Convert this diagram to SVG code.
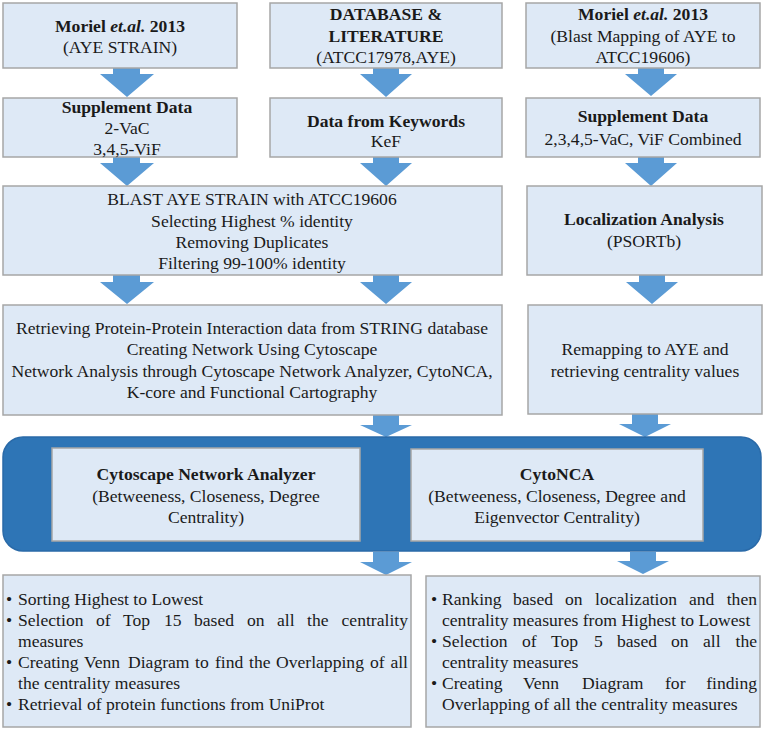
<svg xmlns="http://www.w3.org/2000/svg" width="765" height="730" viewBox="0 0 765 730">
<style>
.box{fill:#dee9f6;stroke:#a6a6a6;stroke-width:1.5}
.arr{fill:#5b9bd5}
.tx{font-family:"Liberation Serif",serif;font-size:17.6px;fill:#1a1a1a}
.c{text-anchor:middle}
.e{text-anchor:end}
.b{font-weight:bold}
.bi{font-weight:bold;font-style:italic}
</style>
<rect width="765" height="730" fill="#ffffff"/>
<g id="connectors">
<polygon class="arr" points="113,68 140,68 140,74 154,74 127,97 100,74 113,74"/>
<polygon class="arr" points="373,68 399,68 399,74 412,74 386,97 360,74 373,74"/>
<polygon class="arr" points="638,68 664,68 664,74 677,74 651,96 625,74 638,74"/>
<polygon class="arr" points="113,157 140,157 140,163 154,163 127,186 100,163 113,163"/>
<polygon class="arr" points="373,157 399,157 399,163 412,163 386,186 360,163 373,163"/>
<polygon class="arr" points="638,157 664,157 664,163 677,163 651,186 625,163 638,163"/>
<polygon class="arr" points="113,275 140,275 140,282 154,282 127,304 100,282 113,282"/>
<polygon class="arr" points="373,275 399,275 399,282 412,282 386,304 360,282 373,282"/>
<polygon class="arr" points="639,275 665,275 665,282 678,282 652,304 626,282 639,282"/>
<polygon class="arr" points="373,415 399,415 399,425 412,425 386,437 360,425 373,425"/>
<polygon class="arr" points="632,414 658,414 658,424 671,424 645,437 619,424 632,424"/>
<polygon class="arr" points="373,552 399,552 399,562 412,562 386,575 360,562 373,562"/>
<polygon class="arr" points="630,552 656,552 656,561 669,561 643,574 617,561 630,561"/>
</g>
<g id="n1">
<rect class="box" x="3" y="3" width="234" height="65"/>
<text style="font-family:'Liberation Serif',serif" class="tx c b" x="120" y="32">Moriel <tspan class="bi">et.al.</tspan> 2013</text>
<text style="font-family:'Liberation Serif',serif" class="tx c" x="120" y="53">(AYE STRAIN)</text>
</g>
<g id="n2">
<rect class="box" x="270" y="3" width="232" height="65"/>
<text style="font-family:'Liberation Serif',serif" class="tx c b" x="386" y="20">DATABASE &amp;</text>
<text style="font-family:'Liberation Serif',serif" class="tx c b" x="386" y="42">LITERATURE</text>
<text style="font-family:'Liberation Serif',serif" class="tx c" x="386" y="63">(ATCC17978,AYE)</text>
</g>
<g id="n3">
<rect class="box" x="526" y="3" width="234" height="65"/>
<text style="font-family:'Liberation Serif',serif" class="tx c b" x="643" y="20">Moriel <tspan class="bi">et.al.</tspan> 2013</text>
<text style="font-family:'Liberation Serif',serif" class="tx c" x="643" y="42">(Blast Mapping of AYE to</text>
<text style="font-family:'Liberation Serif',serif" class="tx c" x="643" y="63">ATCC19606)</text>
</g>
<g id="n4">
<rect class="box" x="3" y="98" width="234" height="59"/>
<text style="font-family:'Liberation Serif',serif" class="tx c b" x="127" y="113">Supplement Data</text>
<text style="font-family:'Liberation Serif',serif" class="tx c" x="127" y="134">2-VaC</text>
<text style="font-family:'Liberation Serif',serif" class="tx c" x="127" y="155">3,4,5-ViF</text>
</g>
<g id="n5">
<rect class="box" x="270" y="98" width="232" height="59"/>
<text style="font-family:'Liberation Serif',serif" class="tx c b" x="386" y="127">Data from Keywords</text>
<text style="font-family:'Liberation Serif',serif" class="tx c" x="386" y="147">KeF</text>
</g>
<g id="n6">
<rect class="box" x="526" y="98" width="234" height="59"/>
<text style="font-family:'Liberation Serif',serif" class="tx c b" x="643" y="122">Supplement Data</text>
<text style="font-family:'Liberation Serif',serif" class="tx c" x="643" y="145">2,3,4,5-VaC, ViF Combined</text>
</g>
<g id="n7">
<rect class="box" x="3" y="186" width="499" height="89"/>
<text style="font-family:'Liberation Serif',serif" class="tx c" x="252" y="205">BLAST AYE STRAIN with ATCC19606</text>
<text style="font-family:'Liberation Serif',serif" class="tx c" x="252" y="227">Selecting Highest % identity</text>
<text style="font-family:'Liberation Serif',serif" class="tx c" x="252" y="248">Removing Duplicates</text>
<text style="font-family:'Liberation Serif',serif" class="tx c" x="252" y="269">Filtering 99-100% identity</text>
</g>
<g id="n8">
<rect class="box" x="527" y="186" width="235" height="89"/>
<text style="font-family:'Liberation Serif',serif" class="tx c b" x="644" y="225">Localization Analysis</text>
<text style="font-family:'Liberation Serif',serif" class="tx c" x="644" y="247">(PSORTb)</text>
</g>
<g id="n9">
<rect class="box" x="3" y="305" width="499" height="110"/>
<text style="font-family:'Liberation Serif',serif" class="tx c" x="252" y="334">Retrieving Protein-Protein Interaction data from STRING database</text>
<text style="font-family:'Liberation Serif',serif" class="tx c" x="252" y="355">Creating Network Using Cytoscape</text>
<text style="font-family:'Liberation Serif',serif" class="tx c" x="252" y="377">Network Analysis through Cytoscape Network Analyzer, CytoNCA,</text>
<text style="font-family:'Liberation Serif',serif" class="tx c" x="252" y="398">K-core and Functional Cartography</text>
</g>
<g id="n10">
<rect class="box" x="528" y="305" width="234" height="109"/>
<text style="font-family:'Liberation Serif',serif" class="tx c" x="645" y="355">Remapping to AYE and</text>
<text style="font-family:'Liberation Serif',serif" class="tx c" x="645" y="377">retrieving centrality values</text>
</g>
<g id="band">
<rect x="3" y="437" width="758" height="114" rx="20" ry="20" fill="#2e75b6" stroke="#2a6aa8" stroke-width="1.5"/>
</g>
<g id="n11">
<rect class="box" x="52" y="448" width="308" height="93"/>
<text style="font-family:'Liberation Serif',serif" class="tx c b" x="206" y="480">Cytoscape Network Analyzer</text>
<text style="font-family:'Liberation Serif',serif" class="tx c" x="206" y="502">(Betweeness, Closeness, Degree</text>
<text style="font-family:'Liberation Serif',serif" class="tx c" x="206" y="523">Centrality)</text>
</g>
<g id="n12">
<rect class="box" x="411" y="449" width="292" height="92"/>
<text style="font-family:'Liberation Serif',serif" class="tx c b" x="557" y="480">CytoNCA</text>
<text style="font-family:'Liberation Serif',serif" class="tx c" x="557" y="502">(Betweeness, Closeness, Degree and</text>
<text style="font-family:'Liberation Serif',serif" class="tx c" x="557" y="523">Eigenvector Centrality)</text>
</g>
<g id="n13">
<rect class="box" x="3" y="575" width="408" height="152"/>
<text style="font-family:'Liberation Serif',serif" class="tx" x="6" y="605">•</text>
<text style="font-family:'Liberation Serif',serif" class="tx" x="18" y="605">Sorting Highest to Lowest</text>
<text style="font-family:'Liberation Serif',serif" class="tx" x="6" y="626">•</text>
<text style="font-family:'Liberation Serif',serif" class="tx" y="626"><tspan x="18">Selection</tspan><tspan x="96">of</tspan><tspan x="123">Top</tspan><tspan x="164">15</tspan><tspan x="194">based</tspan><tspan x="247">on</tspan><tspan x="277">all</tspan><tspan x="307">the</tspan></text>
<text style="font-family:'Liberation Serif',serif" class="tx e" x="408" y="626">centrality</text>
<text style="font-family:'Liberation Serif',serif" class="tx" x="18" y="647">measures</text>
<text style="font-family:'Liberation Serif',serif" class="tx" x="6" y="668">•</text>
<text style="font-family:'Liberation Serif',serif" class="tx" y="668"><tspan x="18">Creating</tspan><tspan x="84">Venn</tspan><tspan x="128">Diagram</tspan><tspan x="195">to</tspan><tspan x="215">find</tspan><tspan x="249">the</tspan><tspan x="276">Overlapping</tspan><tspan x="370">of</tspan></text>
<text style="font-family:'Liberation Serif',serif" class="tx e" x="408" y="668">all</text>
<text style="font-family:'Liberation Serif',serif" class="tx" x="18" y="689">the centrality measures</text>
<text style="font-family:'Liberation Serif',serif" class="tx" x="6" y="710">•</text>
<text style="font-family:'Liberation Serif',serif" class="tx" x="18" y="710">Retrieval of protein functions from UniProt</text>
</g>
<g id="n14">
<rect class="box" x="426" y="576" width="334" height="151"/>
<text style="font-family:'Liberation Serif',serif" class="tx" x="431" y="605">•</text>
<text style="font-family:'Liberation Serif',serif" class="tx" y="605"><tspan x="442">Ranking</tspan><tspan x="513">based</tspan><tspan x="565">on</tspan><tspan x="595">localization</tspan><tspan x="689">and</tspan></text>
<text style="font-family:'Liberation Serif',serif" class="tx e" x="757" y="605">then</text>
<text style="font-family:'Liberation Serif',serif" class="tx" x="442" y="626">centrality measures from Highest to Lowest</text>
<text style="font-family:'Liberation Serif',serif" class="tx" x="431" y="647">•</text>
<text style="font-family:'Liberation Serif',serif" class="tx" y="647"><tspan x="442">Selection</tspan><tspan x="522">of</tspan><tspan x="551">Top</tspan><tspan x="594">5</tspan><tspan x="617">based</tspan><tspan x="671">on</tspan><tspan x="703">all</tspan></text>
<text style="font-family:'Liberation Serif',serif" class="tx e" x="757" y="647">the</text>
<text style="font-family:'Liberation Serif',serif" class="tx" x="442" y="668">centrality measures</text>
<text style="font-family:'Liberation Serif',serif" class="tx" x="431" y="689">•</text>
<text style="font-family:'Liberation Serif',serif" class="tx" y="689"><tspan x="442">Creating</tspan><tspan x="523">Venn</tspan><tspan x="582">Diagram</tspan><tspan x="665">for</tspan></text>
<text style="font-family:'Liberation Serif',serif" class="tx e" x="757" y="689">finding</text>
<text style="font-family:'Liberation Serif',serif" class="tx" x="442" y="710">Overlapping of all the centrality measures</text>
</g>
</svg>
